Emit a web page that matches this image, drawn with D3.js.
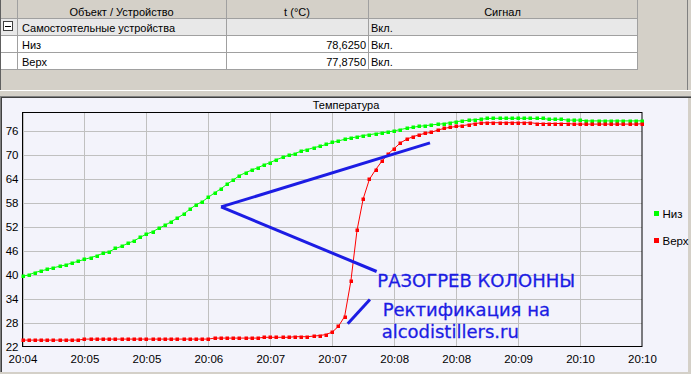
<!DOCTYPE html>
<html><head><meta charset="utf-8">
<script src="https://cdn.jsdelivr.net/npm/d3@7"></script>
<style>body{margin:0;background:#f3f3fb}svg{display:block}</style>
</head><body><svg id="c" width="691" height="374"></svg>
<script>
// ---------- DATA ----------
const seriesNames = ["Низ", "Верх"];
const seriesColors = ["#00ff00", "#ff0000"];
const nizValues = [
 39.75,40.1,40.7,41.1,41.5,41.9,42.25,42.6,43.1,43.5,
 44.0,44.4,44.9,45.5,45.9,46.7,47.25,48.0,48.6,49.5,
 50.3,50.9,51.75,52.5,53.4,54.3,55.3,56.5,57.6,58.4,
 59.5,60.6,61.6,62.75,63.8,64.9,65.65,66.3,66.9,67.6,
 68.2,68.9,69.5,70.0,70.4,71.1,71.45,71.9,72.25,72.7,
 73.2,73.6,74.0,74.35,74.6,74.95,75.15,75.4,75.6,75.85,
 76.1,76.45,76.75,77.0,77.25,77.4,77.6,77.75,77.9,78.15,
 78.4,78.6,78.75,78.9,79.0,79.2,79.25,79.25,79.25,79.25,
 79.25,79.25,79.25,79.2,79.2,79.0,79.0,79.0,78.8,78.8,
 78.8,78.6,78.6,78.6,78.6,78.6,78.6,78.6,78.6,78.6,
 78.625
];
const verhValues = [
 23.8,23.8,23.8,23.8,23.8,23.8,23.8,23.8,23.8,23.8,
 24.05,24.05,24.05,24.05,24.05,24.05,24.05,24.05,24.05,24.05,
 24.05,24.05,24.05,24.05,24.05,24.05,24.05,24.05,24.05,24.05,
 24.05,24.3,24.3,24.3,24.3,24.3,24.3,24.3,24.3,24.5,
 24.5,24.5,24.5,24.5,24.65,24.65,24.65,24.8,24.95,25.2,
 25.8,27.25,29.7,38.5,51.25,59.15,64.0,66.4,68.5,70.3,
 71.7,73.1,74.0,74.65,75.1,75.5,75.75,76.3,76.7,77.0,
 77.2,77.4,77.65,77.95,78.1,78.15,78.15,78.15,78.15,78.15,
 78.15,78.15,78.15,77.95,77.95,77.95,77.95,77.95,77.95,77.8,
 77.8,77.8,77.8,77.8,77.8,77.8,77.8,77.8,77.8,77.8,
 77.875
];
const sampleStart = new Date(2000, 0, 1, 20, 4, 40);
const sampleStepMs = 3600;
const xTickLabels = ["20:04","20:05","20:05","20:06","20:07","20:07","20:08","20:08","20:09","20:10","20:10"];
const xTickStepMs = 36000;
const yTicks = [22, 28, 34, 40, 46, 52, 58, 64, 70, 76];
const chartTitle = "Температура";

const tableHeaders = ["", "Объект / Устройство", "t (°C)", "Сигнал"];
const tableNames = ["Самостоятельные устройства", "Низ", "Верх"];
const tableTemps = ["", "78,6250", "77,8750"];
const tableSignals = ["Вкл.", "Вкл.", "Вкл."];

// annotations in data units: [seconds from start, temperature]
const annotationLines = [
  [[115.4, 57.1], [236.8, 73.1]],
  [[115.4, 57.1], [205.8, 40.95]],
  [[189.0, 27.9], [201.9, 33.95]]
];
const annotationTexts = [
  {text: "РАЗОГРЕВ КОЛОННЫ", t: 206.2, v: 37.0},
  {text: "Ректификация на", t: 209.3, v: 29.8},
  {text: "alcodistillers.ru", t: 208.7, v: 24.4}
];

// ---------- DRAW ----------
const svg = d3.select("#c");
const FONT = "'Liberation Sans', Arial, sans-serif";

// top panel
svg.append("rect").attr("x",0).attr("y",0).attr("width",691).attr("height",97).attr("fill","#d4d0c8");
const colEdges = [0, 17, 226, 368, 637];
const rowEdges = [0, 18, 35, 52, 69];
const tbl = svg.append("g");
tableNames.forEach((n, i) => {
  tbl.append("rect").attr("x", 0).attr("y", rowEdges[i+1]).attr("width", colEdges[4])
    .attr("height", rowEdges[i+2]-rowEdges[i+1]).attr("fill", i === 0 ? "#e8e8e8" : "#ffffff");
});
colEdges.slice(1).forEach(xx => {
  tbl.append("line").attr("x1", xx+0.5).attr("x2", xx+0.5).attr("y1", 0).attr("y2", rowEdges[4])
    .attr("stroke", "#a0a0a0");
});
rowEdges.slice(1).forEach(yy => {
  tbl.append("line").attr("x1", 0).attr("x2", colEdges[4]+1).attr("y1", yy+0.5).attr("y2", yy+0.5)
    .attr("stroke", "#a0a0a0");
});
tableHeaders.forEach((h, i) => {
  if (!h) return;
  tbl.append("text").attr("x", (colEdges[i]+colEdges[i+1])/2).attr("y", 15.5)
    .attr("text-anchor","middle").attr("font-family",FONT).attr("font-size",11).text(h);
});
tableNames.forEach((n, i) => {
  const base = rowEdges[i+1] + 13.5;
  tbl.append("text").attr("x", colEdges[1]+5).attr("y", base).attr("font-family",FONT).attr("font-size",11).text(n);
  if (tableTemps[i]) tbl.append("text").attr("x", colEdges[3]-2).attr("y", base).attr("text-anchor","end")
    .attr("font-family",FONT).attr("font-size",11).text(tableTemps[i]);
  tbl.append("text").attr("x", colEdges[3]+3).attr("y", base).attr("font-family",FONT).attr("font-size",11).text(tableSignals[i]);
});
tbl.append("rect").attr("x",3.5).attr("y",21.5).attr("width",9).attr("height",9).attr("fill","#fff").attr("stroke","#404040");
tbl.append("line").attr("x1",5).attr("x2",11).attr("y1",26.5).attr("y2",26.5).attr("stroke","#000");
tbl.append("line").attr("x1",0.5).attr("x2",0.5).attr("y1",0).attr("y2",91).attr("stroke","#606060");
tbl.append("line").attr("x1",687.5).attr("x2",687.5).attr("y1",0).attr("y2",91).attr("stroke","#808080");
tbl.append("line").attr("x1",0).attr("x2",691).attr("y1",90.5).attr("y2",90.5).attr("stroke","#ffffff");
tbl.append("line").attr("x1",0).attr("x2",691).attr("y1",96.5).attr("y2",96.5).attr("stroke","#808080");
tbl.append("line").attr("x1",0).attr("x2",691).attr("y1",97.5).attr("y2",97.5).attr("stroke","#404040");

// lower panel
svg.append("rect").attr("x",0).attr("y",98).attr("width",691).attr("height",276).attr("fill","#f3f3fb");
svg.append("line").attr("x1",0.5).attr("x2",0.5).attr("y1",97).attr("y2",374).attr("stroke","#808080");
svg.append("line").attr("x1",1.5).attr("x2",1.5).attr("y1",98).attr("y2",374).attr("stroke","#404040");
svg.append("rect").attr("x",688).attr("y",98).attr("width",3).attr("height",276).attr("fill","#d4d0c8");
svg.append("rect").attr("x",0).attr("y",372).attr("width",691).attr("height",2).attr("fill","#d4d0c8");

const plot = {l: 22.5, r: 642, t: 112.5, b: 346.5};
const times = nizValues.map((_, i) => new Date(+sampleStart + i*sampleStepMs));
const endTime = new Date(+sampleStart + (xTickLabels.length-1)*xTickStepMs);
const x = d3.scaleTime().domain([sampleStart, endTime]).range([plot.l, plot.r]);
const y = d3.scaleLinear().domain([22, 80.75]).range([347.3, 112.3]);
const xTickVals = xTickLabels.map((_, k) => new Date(+sampleStart + k*xTickStepMs));

svg.append("clipPath").attr("id","pc").append("rect")
  .attr("x",plot.l).attr("y",plot.t).attr("width",plot.r-plot.l).attr("height",plot.b-plot.t);
const grid = svg.append("g").attr("clip-path","url(#pc)");
grid.selectAll(".gx").data(xTickVals).join("line")
  .attr("x1", d => Math.round(x(d))+0.5).attr("x2", d => Math.round(x(d))+0.5)
  .attr("y1", plot.t).attr("y2", plot.b).attr("stroke","#c0c0c0");
grid.selectAll(".gy").data(yTicks).join("line")
  .attr("y1", d => Math.round(y(d))+0.5).attr("y2", d => Math.round(y(d))+0.5)
  .attr("x1", plot.l).attr("x2", plot.r).attr("stroke","#c0c0c0");

svg.append("rect").attr("x",plot.l).attr("y",plot.t).attr("width",plot.r-plot.l).attr("height",plot.b-plot.t)
  .attr("fill","none").attr("stroke","#000");

svg.append("text").attr("x",346).attr("y",109).attr("text-anchor","middle")
  .attr("font-family",FONT).attr("font-size",11).text(chartTitle);

const xAxis = svg.append("g").attr("transform",`translate(0,${plot.b})`)
  .call(d3.axisBottom(x).tickValues(xTickVals).tickSize(0).tickPadding(8)
    .tickFormat((d, i) => xTickLabels[i]));
xAxis.select(".domain").remove();
xAxis.selectAll("text").attr("font-family",FONT).attr("font-size",11.5).attr("fill","#000");
const yAxis = svg.append("g").attr("transform",`translate(${plot.l},0)`)
  .call(d3.axisLeft(y).tickValues(yTicks).tickSize(0).tickPadding(4));
yAxis.select(".domain").remove();
yAxis.selectAll("text").attr("font-family",FONT).attr("font-size",11.5).attr("fill","#000");

const seriesData = [nizValues, verhValues];
const line = d3.line().x((d, i) => x(times[i])).y(d => y(d));
seriesData.forEach((vals, si) => {
  const g = svg.append("g");
  g.append("path").datum(vals).attr("d", line).attr("fill","none")
    .attr("stroke", seriesColors[si]).attr("stroke-width",1);
  g.selectAll("rect").data(vals).join("rect")
    .attr("x", (d, i) => Math.round(x(times[i])) - 1.5)
    .attr("y", d => Math.round(y(d)) - 1.5)
    .attr("width", 3.5).attr("height", 3.5).attr("fill", seriesColors[si]);
});

seriesNames.forEach((n, i) => {
  const ly = 211 + i*27;
  svg.append("rect").attr("x",654).attr("y",ly).attr("width",5).attr("height",5).attr("fill",seriesColors[i]);
  svg.append("text").attr("x",662.5).attr("y",ly+6.5).attr("font-family",FONT).attr("font-size",11.5).text(n);
});

const at = s => new Date(+sampleStart + s*1000);
annotationLines.forEach(seg => {
  svg.append("line")
    .attr("x1", x(at(seg[0][0]))).attr("y1", y(seg[0][1]))
    .attr("x2", x(at(seg[1][0]))).attr("y2", y(seg[1][1]))
    .attr("stroke","#1c1ce4").attr("stroke-width",3);
});
annotationTexts.forEach(a => {
  svg.append("text").attr("x", x(at(a.t))).attr("y", y(a.v))
    .attr("font-family","'DejaVu Sans', sans-serif").attr("font-size",18)
    .attr("fill","#1c1ce4").attr("stroke","#1c1ce4").attr("stroke-width",0.3).text(a.text);
});
</script></body></html>
